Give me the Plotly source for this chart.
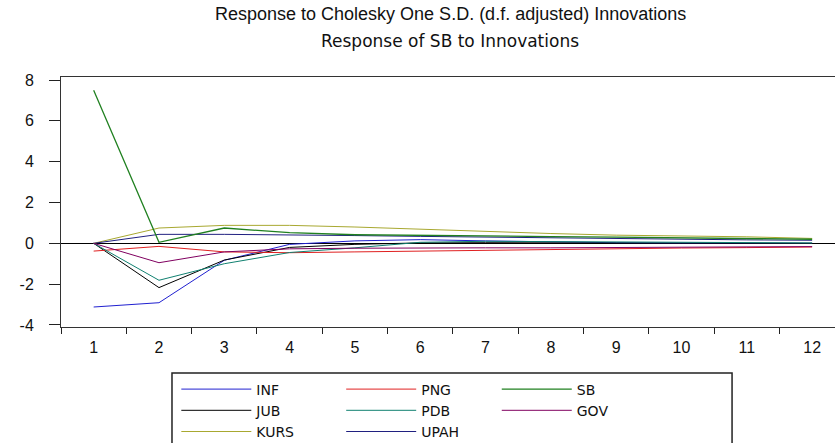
import plotly.graph_objects as go

periods = [str(i) for i in range(1, 13)]
y_tickvals = [-4, -2, 0, 2, 4, 6, 8]
y_ticktext = ["-4", "-2", "0", "2", "4", "6", "8"]
INF = [-3.12, -2.91, -0.83, -0.05, 0.12, 0.18, 0.12, 0.06, 0.03, 0.01, 0.0, 0.0]
PNG = [-0.38, -0.15, -0.42, -0.46, -0.42, -0.38, -0.33, -0.30, -0.26, -0.23, -0.21, -0.18]
SB = [7.50, 0.05, 0.75, 0.52, 0.42, 0.38, 0.35, 0.33, 0.30, 0.27, 0.24, 0.20]
JUB = [0.0, -2.17, -0.82, -0.20, -0.05, 0.02, 0.03, 0.02, 0.01, 0.0, 0.0, 0.0]
PDB = [0.0, -1.81, -1.00, -0.45, -0.22, 0.05, 0.10, 0.08, 0.05, 0.03, 0.02, 0.02]
GOV = [0.0, -0.95, -0.42, -0.27, -0.24, -0.22, -0.22, -0.22, -0.21, -0.20, -0.18, -0.16]
KURS = [0.0, 0.75, 0.88, 0.88, 0.80, 0.69, 0.56, 0.48, 0.40, 0.36, 0.32, 0.24]
UPAH = [0.0, 0.44, 0.44, 0.42, 0.38, 0.34, 0.30, 0.27, 0.23, 0.20, 0.17, 0.15]

series = [
    ("INF", INF, "#2020d0", "legend"),
    ("JUB", JUB, "#000000", "legend"),
    ("KURS", KURS, "#a8a830", "legend"),
    ("PNG", PNG, "#e02020", "legend2"),
    ("PDB", PDB, "#108070", "legend2"),
    ("UPAH", UPAH, "#202080", "legend2"),
    ("SB", SB, "#208020", "legend3"),
    ("GOV", GOV, "#800060", "legend3"),
]

fig = go.Figure()
for name, vals, color, lg in series:
    fig.add_trace(go.Scatter(x=periods, y=vals, mode="lines", name=name,
                             line=dict(color=color, width=1.3 if name == "SB" else 1),
                             legend=lg))

font_main = "Liberation Sans, Arial, sans-serif"
leg_common = dict(orientation="v", bgcolor="rgba(0,0,0,0)", borderwidth=0,
                  font=dict(family="DejaVu Sans, " + font_main, size=14, color="#111"),
                  itemwidth=70, tracegroupgap=0, yanchor="top", xanchor="left")

fig.update_layout(
    width=835, height=443,
    margin=dict(l=61, r=0, t=77, b=116, autoexpand=False),
    paper_bgcolor="white", plot_bgcolor="white",
    showlegend=True,
    legend=dict(x=0.149, y=-0.186, **leg_common),
    legend2=dict(x=0.362, y=-0.186, **leg_common),
    legend3=dict(x=0.563, y=-0.186, **leg_common),
    xaxis=dict(type="category", range=[-0.5, 11.35], tickson="boundaries",
               ticks="outside", ticklen=6, tickcolor="#222",
               showline=True, linecolor="#333", linewidth=1, mirror=True,
               showgrid=False, ticklabelstandoff=6,
               tickfont=dict(family=font_main, size=16, color="#111")),
    yaxis=dict(range=[-4.1, 8.15], tickmode="array", tickvals=y_tickvals, ticktext=y_ticktext,
               ticks="outside", ticklen=11, tickcolor="#222",
               showline=True, linecolor="#333", linewidth=1,
               showgrid=False, zeroline=True, zerolinecolor="#000", zerolinewidth=1,
               ticklabelstandoff=12,
               tickfont=dict(family=font_main, size=16, color="#111")),
    annotations=[
        dict(text="Response to Cholesky One S.D. (d.f. adjusted) Innovations",
             xref="paper", yref="paper", x=0.5026, y=1.252, yanchor="middle",
             showarrow=False,
             font=dict(family="Liberation Sans Narrow, Arial Narrow, " + font_main, size=18, color="#111")),
        dict(text="Response of SB to Innovations",
             xref="paper", yref="paper", x=0.5026, y=1.144, yanchor="middle",
             showarrow=False,
             font=dict(family="DejaVu Sans, " + font_main, size=17, color="#111")),
    ],
    shapes=[dict(type="rect", xref="paper", yref="paper",
                 x0=0.1434, x1=0.867, y0=-0.6, y1=-0.184,
                 line=dict(color="#222", width=1.5), fillcolor="rgba(0,0,0,0)")],
)

fig.write_html("out.html")
